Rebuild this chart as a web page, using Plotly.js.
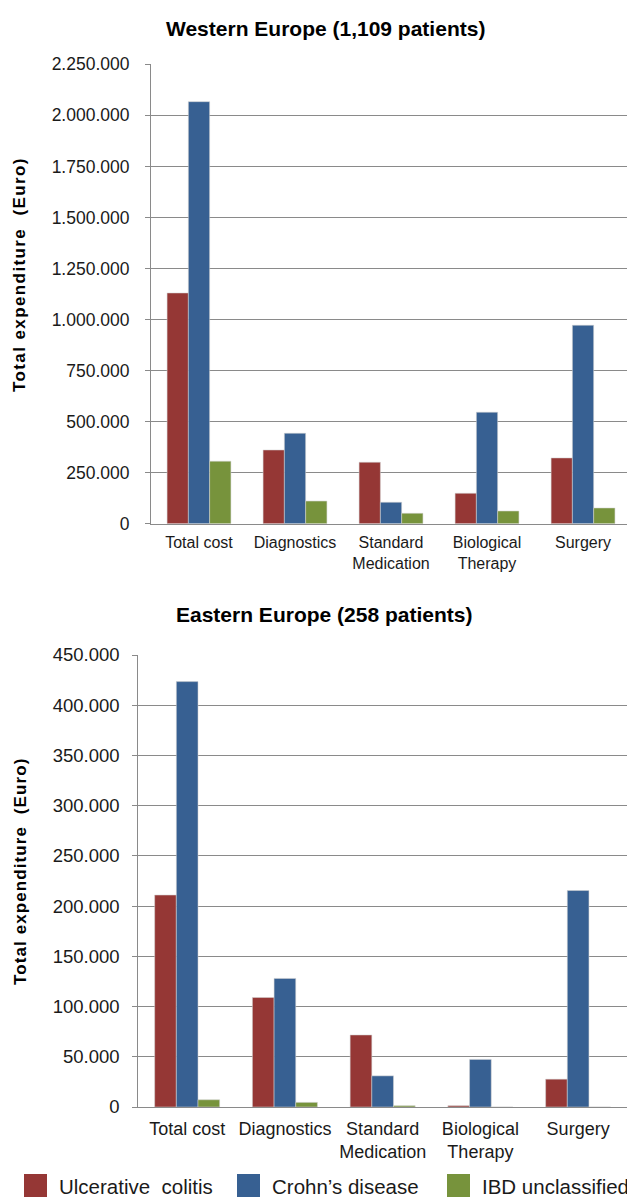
<!DOCTYPE html>
<html>
<head>
<meta charset="utf-8">
<script src="https://cdn.plot.ly/plotly-3.0.1.min.js"></script>
<style>
  html, body { margin: 0; padding: 0; background: #ffffff; }
  #chart { width: 627px; height: 1197px; }
</style>
</head>
<body>
<div id="chart"></div>
<script>
// Cost categories shown on both panels
const categories = ['Total cost', 'Diagnostics', 'Standard<br>Medication', 'Biological<br>Therapy', 'Surgery'];

// Series names and colours
const seriesNames = ['Ulcerative\u00a0 colitis', 'Crohn\u2019s disease', 'IBD unclassified'];
const seriesColors = ['#953735', '#376092', '#77933C'];

// Western Europe (1,109 patients), total expenditure in Euro
const westUC   = [1130000, 361000, 301000, 149000, 322000];
const westCD   = [2067000, 443000, 105000, 546000, 972000];
const westIBDU = [306000, 111000, 51000, 62000, 77000];

// Eastern Europe (258 patients), total expenditure in Euro
const eastUC   = [211000, 109000, 71700, 1300, 27700];
const eastCD   = [423500, 128000, 31000, 47400, 215500];
const eastIBDU = [7200, 4600, 1300, 0, 0];

// Axis ticks
const westTickVals = [0, 250000, 500000, 750000, 1000000, 1250000, 1500000, 1750000, 2000000, 2250000];
const westTickText = ['0', '250.000', '500.000', '750.000', '1.000.000', '1.250.000', '1.500.000', '1.750.000', '2.000.000', '2.250.000'];
const eastTickVals = [0, 50000, 100000, 150000, 200000, 250000, 300000, 350000, 400000, 450000];
const eastTickText = ['0', '50.000', '100.000', '150.000', '200.000', '250.000', '300.000', '350.000', '400.000', '450.000'];

const panelTitles = ['Western Europe (1,109 patients)', 'Eastern Europe (258 patients)'];
const yTitle = 'Total expenditure\u00a0 (Euro)';

// ---- page geometry (pixels) ----
const W = 627, H = 1197;
const px = x => x / W;
const py = y => 1 - y / H;
const FONT = 'Liberation Sans, Arial, sans-serif';
const GRID = '#8a8a8a';
const TXT = '#1a1a1a';

function barTrace(vals, i, xa, ya) {
  return {
    type: 'bar',
    x: categories,
    y: vals,
    name: seriesNames[i],
    xaxis: xa,
    yaxis: ya,
    showlegend: false,
    marker: { color: seriesColors[i], line: { color: 'rgba(210,210,210,0.9)', width: 0.6 } },
    hoverinfo: 'x+y+name'
  };
}

const data = [
  barTrace(westUC, 0, 'x', 'y'),
  barTrace(westCD, 1, 'x', 'y'),
  barTrace(westIBDU, 2, 'x', 'y'),
  barTrace(eastUC, 0, 'x2', 'y2'),
  barTrace(eastCD, 1, 'x2', 'y2'),
  barTrace(eastIBDU, 2, 'x2', 'y2')
];

function xAxis(domain, range, size, standoff, anchor) {
  return {
    domain: domain,
    range: range,
    anchor: anchor,
    type: 'category',
    showline: true,
    linecolor: GRID,
    linewidth: 1,
    ticks: '',
    showgrid: false,
    zeroline: false,
    tickfont: { family: FONT, size: size, color: TXT },
    ticklabelstandoff: standoff,
    automargin: false,
    fixedrange: true
  };
}

function yAxis(domain, range, vals, text, anchor, size, standoff) {
  return {
    domain: domain,
    range: range,
    anchor: anchor,
    tickvals: vals,
    ticktext: text,
    showline: true,
    linecolor: GRID,
    linewidth: 1,
    ticks: 'outside',
    ticklen: 5,
    tickcolor: GRID,
    showgrid: true,
    gridcolor: GRID,
    gridwidth: 1,
    zeroline: false,
    tickfont: { family: FONT, size: size, color: TXT },
    ticklabelstandoff: standoff,
    automargin: false,
    fixedrange: true
  };
}

// Legend swatches and labels
const legendX = [24, 237, 447];
const shapes = [];
const annotations = [];
seriesNames.forEach((name, i) => {
  shapes.push({
    type: 'rect', xref: 'paper', yref: 'paper',
    x0: px(legendX[i]), x1: px(legendX[i] + 23),
    y0: py(1197), y1: py(1174),
    fillcolor: seriesColors[i], line: { width: 0 }
  });
  annotations.push({
    xref: 'paper', yref: 'paper', x: px(legendX[i] + 33), y: py(1186),
    xanchor: 'left', yanchor: 'middle', showarrow: false,
    text: name, font: { family: FONT, size: 20.5, color: TXT }
  });
});

// Panel titles
annotations.push({
  xref: 'paper', yref: 'paper', x: px(325), y: py(28), xanchor: 'center', yanchor: 'middle',
  showarrow: false, text: '<b>' + panelTitles[0] + '</b>',
  font: { family: FONT, size: 21, color: '#000' }
});
annotations.push({
  xref: 'paper', yref: 'paper', x: px(324), y: py(614), xanchor: 'center', yanchor: 'middle',
  showarrow: false, text: '<b>' + panelTitles[1] + '</b>',
  font: { family: FONT, size: 21, color: '#000' }
});

// Rotated y-axis titles (slightly tracked bold lettering)
function spacedTitle(spacing) {
  return '<span style="letter-spacing:' + spacing + 'px"><b>' + yTitle + '</b></span>';
}
annotations.push({
  xref: 'paper', yref: 'paper', x: px(20), y: py(275), xanchor: 'center', yanchor: 'middle',
  showarrow: false, textangle: -90, text: spacedTitle(1.4),
  font: { family: FONT, size: 17, color: '#000' }
});
annotations.push({
  xref: 'paper', yref: 'paper', x: px(20), y: py(872), xanchor: 'center', yanchor: 'middle',
  showarrow: false, textangle: -90, text: spacedTitle(1.1),
  font: { family: FONT, size: 17, color: '#000' }
});

const layout = {
  width: W,
  height: H,
  margin: { l: 0, r: 0, t: 0, b: 0, pad: 0 },
  paper_bgcolor: '#ffffff',
  plot_bgcolor: '#ffffff',
  showlegend: false,
  barmode: 'group',
  bargap: 0.335,
  bargroupgap: 0,
  font: { family: FONT, color: TXT },
  xaxis: xAxis([px(151), 1], [-0.5, 4.458], 16, 4, 'y'),
  yaxis: yAxis([py(523.7), py(64.3)], [0, 2250000], westTickVals, westTickText, 'x', 17.5, 12),
  xaxis2: xAxis([px(138.3), 1], [-0.5, 4.5], 18, 5, 'y2'),
  yaxis2: yAxis([py(1107), py(655)], [0, 450000], eastTickVals, eastTickText, 'x2', 18.5, 9),
  shapes: shapes,
  annotations: annotations
};

Plotly.newPlot('chart', data, layout, { displayModeBar: false, staticPlot: true });
</script>
</body>
</html>
